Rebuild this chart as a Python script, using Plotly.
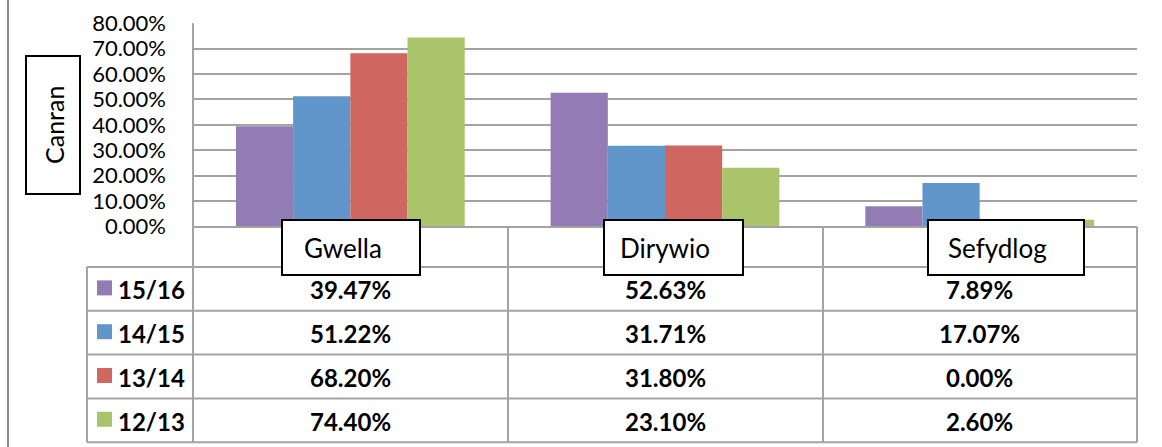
import plotly.graph_objects as go

# ---- data ----
categories = ["Gwella", "Dirywio", "Sefydlog"]
series_names = ["15/16", "14/15", "13/14", "12/13"]
s_15_16 = [39.47, 52.63, 7.89]
s_14_15 = [51.22, 31.71, 17.07]
s_13_14 = [68.20, 31.80, 0.00]
s_12_13 = [74.40, 23.10, 2.60]
y_ticks = [0, 10, 20, 30, 40, 50, 60, 70, 80]
y_title = "Canran"

series_values = [s_15_16, s_14_15, s_13_14, s_12_13]
colors = ["#937CB3", "#6096CA", "#CF665F", "#AAC46B"]

W, H = 1162, 447
FONT = "Lato, 'Noto Sans', sans-serif"
GRID = "#A3A3A3"


def px(x):
    return x / W


def py(y):
    return 1 - y / H


fig = go.Figure()
for name, vals, col in zip(series_names, series_values, colors):
    fig.add_trace(go.Bar(
        x=categories, y=[v / 100 for v in vals], name=name,
        marker=dict(color=col, line=dict(width=0)), showlegend=False,
    ))

# plot area pixel geometry
X0, X1 = 193, 1137
Y_TOP, Y_ZERO = 23.3, 226.3

shapes = []
annotations = []


def line(x0, y0, x1, y1, color=GRID, width=2):
    shapes.append(dict(type="line", xref="paper", yref="paper",
                       x0=px(x0), y0=py(y0), x1=px(x1), y1=py(y1),
                       line=dict(color=color, width=width), layer="above"))


# outer left chart border
line(8, 0, 8, H, color="#8C8C8C", width=2)

# table geometry
table_left = 87
header_top = 227
row_top = 267
row_h = 43.8
col_bounds = [X0, 508, 823, X1]
row_bounds = [row_top + i * row_h for i in range(len(series_names) + 1)]
table_bottom = row_bounds[-1]

line(X0, header_top, X1, header_top)
for yb in row_bounds:
    line(table_left, yb, X1, yb)
line(table_left, row_top, table_left, table_bottom)
line(X0, Y_TOP, X0, table_bottom)
for xb in col_bounds[1:]:
    line(xb, header_top, xb, table_bottom)

# table rows: legend keys, series names, values
for i, (name, vals, col) in enumerate(zip(series_names, series_values, colors)):
    yc = (row_bounds[i] + row_bounds[i + 1]) / 2
    shapes.append(dict(type="rect", xref="paper", yref="paper",
                       x0=px(97), x1=px(112), y0=py(yc - 8.5), y1=py(yc + 6.5),
                       fillcolor=col, line=dict(width=0), layer="above"))
    annotations.append(dict(xref="paper", yref="paper", x=px(116), y=py(yc + 1),
                            text=f"<b>{name}</b>", showarrow=False,
                            xanchor="left", yanchor="middle",
                            font=dict(family=FONT, size=24, color="black")))
    for cat, v in zip(categories, vals):
        annotations.append(dict(xref="x", yref="paper", x=cat, y=py(yc + 1),
                                text=f"<b>{v:.2f}%</b>", showarrow=False,
                                xanchor="center", yanchor="middle",
                                font=dict(family=FONT, size=24, color="black")))

# category label boxes (over header row)
box_bounds = [(282, 420), (604, 743), (928, 1084)]
text_shift = [-7, 0, 18]
for cat, (bx0, bx1), sh in zip(categories, box_bounds, text_shift):
    shapes.append(dict(type="rect", xref="paper", yref="paper",
                       x0=px(bx0), x1=px(bx1), y0=py(275), y1=py(220),
                       fillcolor="white", line=dict(color="black", width=2),
                       layer="above"))
    annotations.append(dict(xref="x", yref="paper", x=cat, y=py(247.5),
                            xshift=sh, text=cat, showarrow=False,
                            xanchor="center", yanchor="middle",
                            font=dict(family=FONT, size=26, color="black")))

# y-axis title box
shapes.append(dict(type="rect", xref="paper", yref="paper",
                   x0=px(26), x1=px(80), y0=py(194), y1=py(56),
                   fillcolor="white", line=dict(color="black", width=2),
                   layer="above"))
annotations.append(dict(xref="paper", yref="paper", x=px(54), y=py(125),
                        text=y_title, textangle=-90, showarrow=False,
                        xanchor="center", yanchor="middle",
                        font=dict(family=FONT, size=25, color="black")))

fig.update_layout(
    width=W, height=H,
    margin=dict(l=0, r=0, t=0, b=0, pad=0),
    paper_bgcolor="white", plot_bgcolor="white",
    barmode="group", bargap=0.273, bargroupgap=0,
    font=dict(family=FONT, color="black"),
    shapes=shapes, annotations=annotations,
    hovermode=False,
    xaxis=dict(domain=[px(X0), px(X1)], showticklabels=False, showgrid=False,
               showline=False, ticks="", zeroline=False, automargin=False),
    yaxis=dict(domain=[py(Y_ZERO), py(Y_TOP)], range=[0, 0.8],
               tickvals=[t / 100 for t in y_ticks], tickformat=".2%",
               showgrid=True, gridcolor=GRID, gridwidth=2,
               showline=False, zeroline=False, ticks="",
               ticklabelstandoff=26, automargin=False,
               tickfont=dict(family=FONT, size=22, color="black")),
)

fig.write_html(
    "out.html",
    config={"displayModeBar": False, "staticPlot": True},
    post_script="document.body.style.margin='0px';"
                "document.body.style.overflow='hidden';",
)
